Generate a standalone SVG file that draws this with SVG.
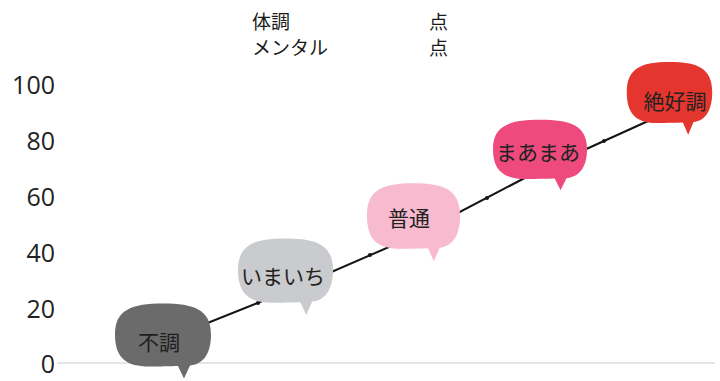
<svg xmlns="http://www.w3.org/2000/svg" width="720" height="381" viewBox="0 0 720 381">
<style>
.ax{font-family:"Open Sans","Noto Sans",sans-serif;font-size:25px;fill:#222;text-anchor:end}
.hd{font-family:"Noto Sans CJK JP",sans-serif;font-size:19px;fill:#1a1a1a}
.bt{font-family:"Noto Sans CJK JP",sans-serif;font-size:21px;fill:#222;text-anchor:middle;dominant-baseline:central}
.conn{fill:none;stroke:#151515;stroke-width:2}
.dot{fill:#151515}
</style>
<defs>
<path id="bub" d="M -48 0 C -48 -25 -31 -31 0 -31 C 31 -31 48 -25 48 0 C 48 22 38 30 27 31 L 21 44 L 15 31.5 C -4 32 -10 32 -14 32 C -36 32 -48 24 -48 0 Z"/>
</defs>
<rect width="720" height="381" fill="#fff"/>
<g id="axis">
<line x1="57" y1="363" x2="715" y2="363" stroke="#dcdcdc" stroke-width="1.5"/>
<text class="ax" x="55" y="94">100</text>
<text class="ax" x="55" y="150">80</text>
<text class="ax" x="55" y="206">60</text>
<text class="ax" x="55" y="262">40</text>
<text class="ax" x="55" y="318">20</text>
<text class="ax" x="55" y="373">0</text>
</g>
<g id="header">
<text class="hd" x="252" y="29">体調</text>
<text class="hd" x="252" y="55">メンタル</text>
<text class="hd" x="429" y="29">点</text>
<text class="hd" x="429" y="55">点</text>
</g>
<g id="connectors">
<polyline class="conn" points="165,340 290,290 412,237 540,170 668,112"/>
<circle class="dot" cx="258" cy="303" r="2"/>
<circle class="dot" cx="370" cy="255" r="2"/>
<circle class="dot" cx="487" cy="198" r="2"/>
<circle class="dot" cx="604" cy="141" r="2"/>
</g>
<g id="n1">
<use href="#bub" transform="translate(163,334.5)" fill="#6b6b6b"/>
<text class="bt" x="159" y="341" style="fill:#1e1e1e">不調</text>
</g>
<g id="n2">
<use href="#bub" transform="translate(285.5,270) scale(0.99,1.02)" fill="#cacbce"/>
<text class="bt" x="283" y="275">いまいち</text>
</g>
<g id="n3">
<use href="#bub" transform="translate(413.5,215.5) scale(0.97,1.04)" fill="#f8bacf"/>
<text class="bt" x="409" y="217">普通</text>
</g>
<g id="n4">
<use href="#bub" transform="translate(540,149) scale(0.98,0.94)" fill="#ee4a7e"/>
<text class="bt" x="538" y="151">まあまあ</text>
</g>
<g id="n5">
<use href="#bub" transform="translate(669.5,92) scale(0.89,0.97)" fill="#e5352f"/>
<text class="bt" x="675" y="100">絶好調</text>
</g>
</svg>
